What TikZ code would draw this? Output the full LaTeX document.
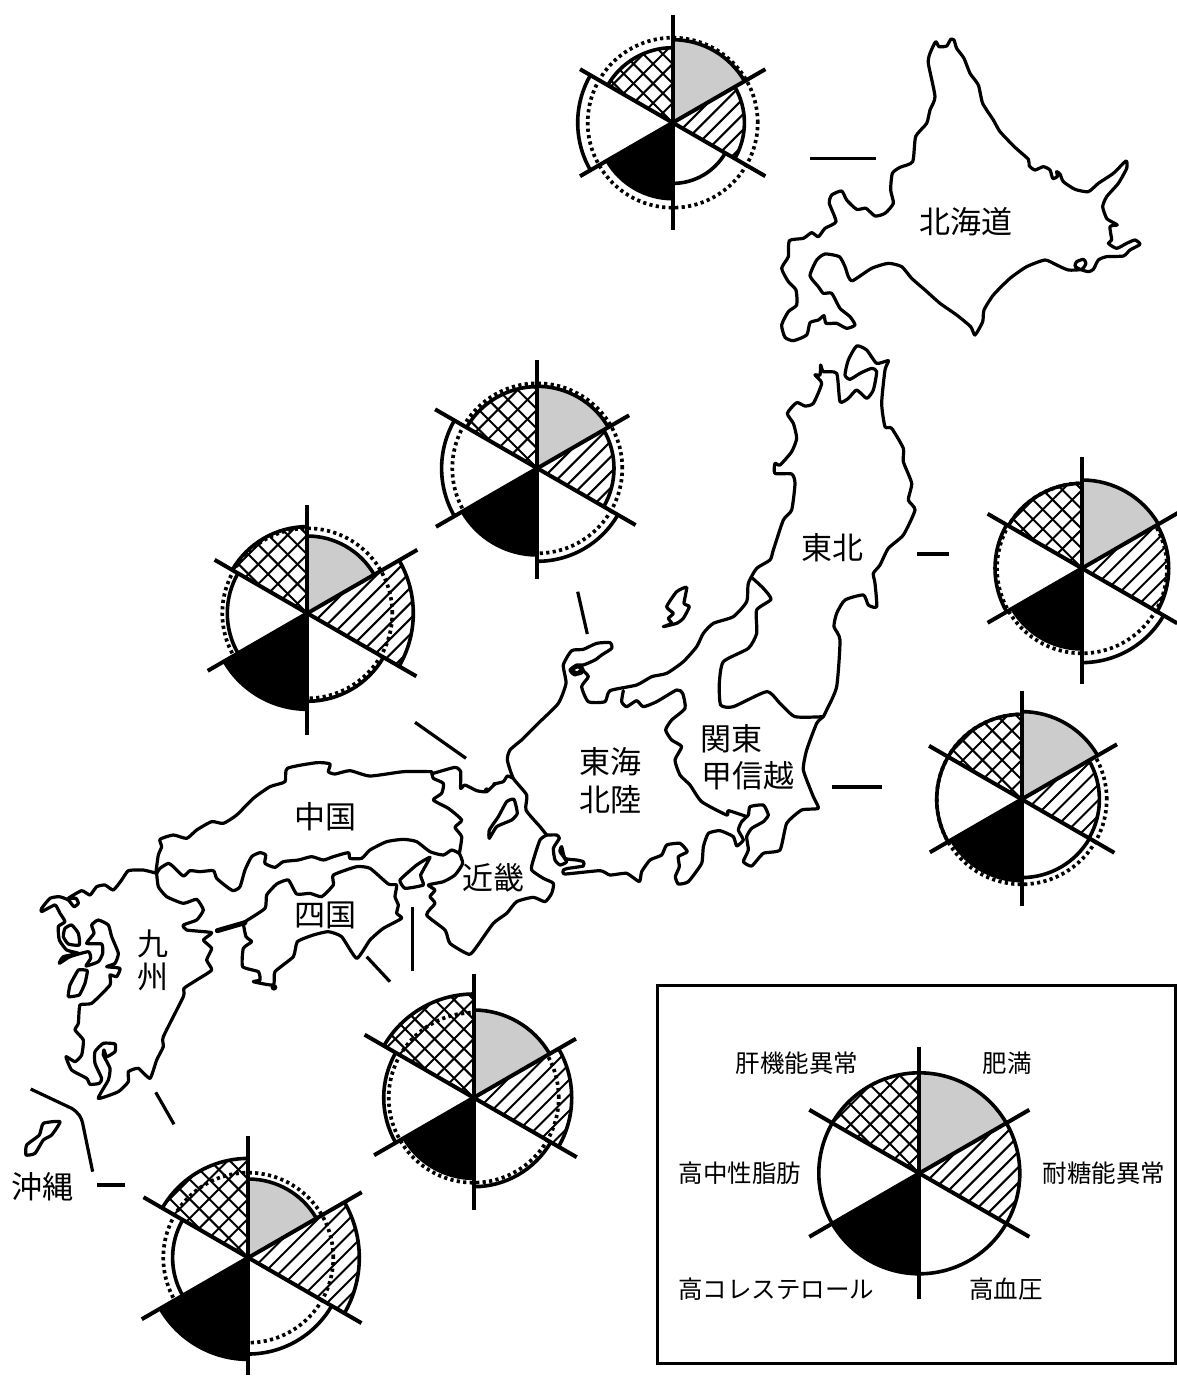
\documentclass[tikz,border=0pt]{standalone}
\usepackage{fontspec}
\newfontfamily\cjk{Noto Sans CJK JP}
\definecolor{piegray}{HTML}{CCCCCC}
\tikzset{
  coast/.style={draw=black,line width=3.2pt,line join=round,line cap=round},
  leader/.style={draw=black,line width=3.2pt},
  dotring/.style={draw=black,line width=3.7pt,dash pattern=on 3.2pt off 3.3pt},
  piearc/.style={draw=black,line width=3.6pt},
  pieaxis/.style={draw=black,line width=4pt},
  hatchline/.style={draw=black,line width=2pt},
  maplabel/.style={inner sep=0pt,font=\cjk\fontsize{31}{31}\selectfont},
  keylabel/.style={inner sep=0pt,font=\cjk\fontsize{24.5}{24.5}\selectfont},
  zA/.style={shift={(760,-30)},x=0.33333pt,y=-0.33333pt},
  zB/.style={shift={(480,-340)},x=0.33333pt,y=-0.33333pt},
  zC/.style={shift={(400,-660)},x=0.33333pt,y=-0.33333pt},
  zD/.style={shift={(0,-740)},x=0.33333pt,y=-0.33333pt},
}
\def\radar(#1,#2)#3,#4,#5,#6,#7,#8,#9;{\def\RadX{#1}\def\RadY{#2}\def\RadA{#3}\def\RadB{#4}\def\RadC{#5}\def\RadD{#6}\def\RadE{#7}\def\RadF{#8}\def\RadDot{#9}\radaraxes}
\def\radaraxes#1,#2,#3,#4,#5,#6;{%
\begin{scope}[shift={(\RadX,-\RadY)}]
  \ifdim\RadDot pt>0pt \draw[dotring] (0,0) circle[radius=\RadDot]; \fi
  \fill[piegray] (0,0)--(90:\RadA) arc[start angle=90,end angle=30,radius=\RadA]--cycle;
  \fill[black] (0,0)--(-90:\RadD) arc[start angle=-90,end angle=-150,radius=\RadD]--cycle;
  \begin{scope}
    \clip (0,0)--(30:\RadB) arc[start angle=30,end angle=-30,radius=\RadB]--cycle;
    \foreach \k in {-10,...,10} \draw[hatchline] ({\k*15.5-160},-160)--({\k*15.5+160},160);
  \end{scope}
  \begin{scope}
    \clip (0,0)--(150:\RadF) arc[start angle=150,end angle=90,radius=\RadF]--cycle;
    \foreach \k in {-8,...,8} {
      \draw[hatchline] ({\k*19.6-160},-160)--({\k*19.6+160},160);
      \draw[hatchline] ({\k*19.6-160},160)--({\k*19.6+160},-160);
    }
  \end{scope}
  \draw[piearc] (90:\RadA) arc[start angle=90,end angle=30,radius=\RadA];
  \draw[piearc] (30:\RadB) arc[start angle=30,end angle=-30,radius=\RadB];
  \draw[piearc] (-30:\RadC) arc[start angle=-30,end angle=-90,radius=\RadC];
  \draw[piearc] (-90:\RadD) arc[start angle=-90,end angle=-150,radius=\RadD];
  \draw[piearc] (-150:\RadE) arc[start angle=-150,end angle=-210,radius=\RadE];
  \draw[piearc] (150:\RadF) arc[start angle=150,end angle=90,radius=\RadF];
  \draw[pieaxis] (90:#1)--(0,0);
  \draw[pieaxis] (30:#2)--(0,0);
  \draw[pieaxis] (-30:#3)--(0,0);
  \draw[pieaxis] (-90:#4)--(0,0);
  \draw[pieaxis] (-150:#5)--(0,0);
  \draw[pieaxis] (150:#6)--(0,0);
\end{scope}}
\begin{document}
\begin{tikzpicture}[x=1pt,y=1pt]
\fill[white] (0,0) rectangle (1176,-1376);
\useasboundingbox (0,0) rectangle (1176,-1376);

% Hokkaido
\begin{scope}[zA]
\draw[coast] plot[smooth cycle,tension=0.35] coordinates {(527,35)(537,50)(560,48)(572,28)(582,30)(590,55)(612,85)(630,130)(655,165)(668,220)(700,270)(720,305)(765,352)(805,388)(808,408)(825,420)(850,410)(870,420)(878,445)(892,440)(890,425)(900,432)(910,455)(945,478)(985,485)(1015,460)(1060,430)(1098,393)(1100,415)(1075,460)(1040,500)(1028,530)(1040,565)(1060,578)(1072,585)(1050,590)(1055,630)(1045,640)(1070,655)(1100,640)(1125,630)(1140,643)(1110,660)(1090,678)(1040,680)(1015,690)(1000,718)(985,725)(960,718)(945,708)(950,695)(970,688)(978,700)(965,718)(925,720)(890,705)(855,690)(800,710)(750,745)(700,795)(672,840)(668,875)(645,915)(632,890)(590,855)(540,820)(495,780)(455,745)(425,710)(385,700)(335,715)(278,752)(265,740)(255,710)(238,680)(195,672)(170,690)(150,737)(175,770)(190,790)(215,790)(240,835)(270,860)(285,885)(260,895)(230,880)(198,880)(192,857)(175,870)(150,878)(140,915)(100,932)(75,922)(65,885)(85,845)(110,825)(108,780)(85,755)(65,715)(85,680)(88,632)(130,625)(155,608)(175,620)(195,595)(228,575)(208,520)(215,495)(245,483)(260,510)(290,538)(318,535)(345,558)(375,550)(400,520)(392,480)(397,430)(420,412)(458,395)(467,320)(500,280)(510,240)(525,200)(505,100)(510,70)};
\end{scope}

% Tohoku coast, Noto, Sado
\begin{scope}[zB]
\draw[coast] plot[smooth,tension=0.35] coordinates {(1030,1130)(1040,1110)(1070,1040)(1080,900)(1062,860)(1070,820)(1095,780)(1150,765)(1165,795)(1190,800)(1185,730)(1180,700)(1200,675)(1225,625)(1270,585)(1305,510)(1285,480)(1295,430)(1270,365)(1270,325)(1235,265)(1215,260)(1205,190)(1215,90)(1225,62)(1190,70)(1160,30)(1130,18)(1105,60)(1095,105)(1110,118)(1140,100)(1175,85)(1190,95)(1180,150)(1160,175)(1130,150)(1105,175)(1080,185)(1070,100)(1030,95)(1022,75)(1020,105)(1005,105)(1025,130)(1000,190)(975,198)(950,188)(922,220)(940,250)(950,295)(935,335)(900,375)(885,370)(885,400)(935,402)(945,430)(935,510)(910,540)(880,630)(870,660)(830,685)(805,730)(800,785)(760,830)(700,850)(670,880)(650,920)(610,965)(560,1000)(515,1010)(470,1035)(390,1052)(375,1085)(325,1085)(305,1040)(325,1010)(305,990)(285,1005)(270,990)(290,975)(310,975)(345,960)(365,945)(395,925)(390,908)(350,910)(310,928)(275,932)(250,975)(258,1030)(235,1090)(180,1145)(125,1200)};
\draw[coast] plot[smooth,tension=0.35] coordinates {(818,715)(850,745)(873,778)(830,810)(830,880)(805,925)(730,965)(718,1030)(722,1095)(760,1100)(860,1055)(900,1090)(945,1130)(1030,1130)};
\draw[coast] plot[smooth cycle,tension=0.3] coordinates {(620,742)(590,755)(560,800)(580,820)(565,835)(575,850)(550,860)(590,850)(610,835)(628,800)(612,790)};
\draw[coast,line width=4.2pt] (293,990) ellipse[x radius=15,y radius=11];
\end{scope}

% Chubu, Kinki
\begin{scope}[zC]
\draw[coast] plot[smooth,tension=0.35] coordinates {(365,240)(330,270)(322,300)(340,355)(380,405)(378,450)(420,500)(440,525)};
\draw[coast] plot[smooth,tension=0.3] coordinates {(440,525)(470,525)(478,535)(460,565)(465,600)(480,615)(500,605)(480,575)(485,560)(495,595)(530,600)(550,605)(550,618)(505,625)(490,630)(495,642)(600,632)(630,645)(680,640)(718,665)(725,635)(750,600)(785,585)(800,555)(840,550)(862,575)(835,590)(838,620)(826,650)(835,672)(865,665)(905,610)(910,560)(925,520)(960,512)(1000,530)(1010,558)(1030,540)(1015,510)(1025,485)(1045,465)(1050,440)(1090,435)(1105,465)(1090,485)(1055,505)(1040,530)(1045,570)(1030,605)(1055,618)(1090,580)(1140,570)(1160,490)(1205,450)(1255,445)(1240,410)(1210,330)(1220,270)(1250,190)(1270,170)};
\draw[coast] plot[smooth,tension=0.35] coordinates {(440,525)(420,540)(400,600)(395,630)(430,655)(460,670)(455,700)(435,725)(400,712)(350,725)(320,760)(280,790)(230,860)(207,883)(150,850)(135,810)(80,765)(105,730)(90,710)(105,690)(85,675)(130,665)(165,645)(188,610)(178,580)};
\draw[coast] plot[smooth,tension=0.35] coordinates {(670,92)(665,125)(680,140)(710,122)(730,140)(770,125)(830,90)(848,100)(855,145)(815,180)(797,210)(815,240)(845,260)(825,300)(840,345)(870,375)(905,425)(980,465)(985,452)(1035,468)};
\draw[coast] plot[smooth,tension=0.3] coordinates {(100,340)(165,322)(182,335)(182,385)(195,375)(230,392)(260,395)(285,372)(310,365)(322,348)(340,355)};
\fill (260,390) circle[radius=8];
\fill (283,372) circle[radius=6];
\draw[coast] plot[smooth cycle,tension=0.3] coordinates {(342,418)(320,425)(295,470)(268,510)(268,535)(290,500)(335,480)(352,460)};
\end{scope}

% West
\begin{scope}[zD]
\draw[coast] plot[smooth,tension=0.35] coordinates {(468,395)(475,345)(485,320)(480,298)(520,285)(560,295)(590,270)(635,245)(670,250)(710,225)(760,175)(810,140)(855,125)(862,85)(950,68)(990,72)(985,95)(1005,102)(1050,92)(1110,108)(1210,95)(1295,95)};
\draw[coast] plot[smooth,tension=0.35] coordinates {(1295,95)(1300,115)(1330,130)(1325,160)(1300,180)(1345,205)(1385,240)(1365,262)(1385,290)(1378,340)};
\draw[coast] plot[smooth,tension=0.35] coordinates {(1378,340)(1355,330)(1330,345)(1290,335)(1250,305)(1210,298)(1160,305)(1110,330)(1085,355)(1050,355)(1045,338)(1000,350)(970,360)(935,350)(895,360)(850,365)(825,382)(795,370)(797,345)(780,338)(755,350)(735,390)(720,440)(700,452)(680,440)(650,415)(640,392)(600,395)(570,392)(550,408)(520,380)(505,370)(480,385)(470,400)};
% Kyushu
\draw[coast] plot[smooth,tension=0.3] coordinates {(470,400)(430,390)(385,392)(365,420)(340,450)(315,435)(290,440)(270,465)(245,452)(205,475)(228,475)(235,490)(222,500)(205,480)(178,470)(150,475)(125,505)(125,515)(165,495)(180,520)(195,545)(175,560)(178,600)(200,630)(235,640)(190,650)(178,670)(210,650)(265,635)(272,655)(258,678)(295,665)(308,640)(305,612)(260,610)(282,580)(275,555)(295,540)(325,555)(335,590)(355,640)(345,670)(320,680)(360,685)(350,710)(330,705)(330,735)(275,790)(240,795)(235,850)(225,870)(250,900)(245,945)(225,965)(198,950)(215,990)(260,1015)(270,1033)(298,1030)(305,1015)(285,970)(285,935)(310,910)(345,912)(345,935)(320,950)(312,930)(310,945)(330,985)(325,1020)(295,1075)(355,1055)(385,1025)(385,995)(415,985)(450,1015)(470,960)(490,920)(490,890)(550,770)(552,745)(590,720)(635,690)(620,660)(635,625)(610,600)(635,578)(560,570)(550,555)(590,540)(610,510)(590,478)(550,490)(500,470)(475,440)(470,400)};
\draw[coast] plot[smooth cycle,tension=0.3] coordinates {(195,565)(215,555)(235,580)(238,615)(205,612)(190,590)};
\draw[coast] plot[smooth cycle,tension=0.2] coordinates {(235,690)(262,692)(255,730)(238,765)(205,770)(210,735)};
% Shikoku
\draw[coast] plot[smooth cycle,tension=0.3] coordinates {(1190,435)(1165,432)(1110,385)(1070,380)(1000,405)(1000,435)(965,470)(930,460)(890,462)(865,420)(830,432)(800,465)(795,505)(735,545)(730,550)(738,590)(755,605)(730,625)(728,680)(775,695)(780,720)(760,725)(820,735)(825,695)(880,650)(892,605)(940,585)(985,575)(1025,590)(1070,655)(1110,600)(1150,565)(1205,535)(1190,520)(1195,495)(1185,470)};
\fill (822,742) circle[radius=10];
\draw[line width=5pt,line cap=round] (652,572)--(735,548);
% Awaji
\draw[coast] plot[smooth cycle,tension=0.25] coordinates {(1290,352)(1250,375)(1200,420)(1215,445)(1270,435)(1262,405)};
% Okinawa
\draw[coast] plot[smooth cycle,tension=0.3] coordinates {(180,1145)(130,1150)(118,1185)(80,1215)(78,1245)(105,1240)(130,1200)(155,1185)};
% Okinawa frame line
\draw[leader] (92,1047)--(215,1105) .. controls (235,1118) and (245,1130) .. (250,1160)--(278,1295);
\end{scope}

% Leaders
\draw[leader] (810,-158.3)--(876,-158.3);
\draw[leader] (577.7,-591.7)--(587.3,-634);
\draw[leader] (415,-722.3)--(466,-758.3);
\draw[leader] (917,-554)--(949,-554);
\draw[leader] (832,-787)--(882,-787);
\draw[leader] (412.3,-906.7)--(412.3,-970.7);
\draw[leader] (366.7,-956.7)--(390,-981.7);
\draw[leader] (155.7,-1092.3)--(174,-1124.3);
\draw[leader] (97,-1185)--(125,-1185);

% Charts
\radar(672.7,122.7)83,71.7,60.7,76,95,75,85;107.7,107,107,107.3,107,107;
\radar(537.3,468.3)82,76.7,93,86.7,95.7,81.7,85;108,106,113.5,111,117,118;
\radar(307.3,613.3)77.3,106,88,96,80,86.7,85;108,127,126,122,115,107;
\radar(1082,568.3)88.3,86.7,94.3,80.7,87,85,85;111,115,110,115.7,109,109;
\radar(1021.7,799.3)87.7,77.7,78.3,81.3,85,85,85;108,110,107,107,106,107;
\radar(473.7,1097.7)87.7,98,89,80.7,90,103.7,85;124,118,119,112,115,126;
\radar(248.3,1257.7)78.7,111,96.3,101.7,75.7,99.3,85;121.7,131,130.7,117.3,123,121;

% Legend
\draw[line width=3pt] (657.5,-985.5) rectangle (1175,-1363.5);
\radar(919.3,1173.3)100.5,100.5,100.5,100.5,100.5,100.5,0;126.7,127,127,126,127,127;

% Labels
\node[maplabel] (hokkaido) at (966,-222) {北海道};
\node[maplabel] (tohoku) at (832,-548) {東北};
\node[maplabel] (kanto) at (731.5,-739) {関東};
\node[maplabel] (koshinetsu) at (747.5,-776) {甲信越};
\node[maplabel] (tokai) at (610,-761.5) {東海};
\node[maplabel] (hokuriku) at (610,-800) {北陸};
\node[maplabel] (kinki) at (493.5,-877.5) {近畿};
\node[maplabel] (chugoku) at (325,-817) {中国};
\node[maplabel] (shikoku) at (325,-915) {四国};
\node[maplabel] (kyu) at (153,-944) {九};
\node[maplabel] (shu) at (153,-977) {州};
\node[maplabel] (okinawa) at (42,-1187) {沖縄};
\node[keylabel] (liver) at (797,-1063) {肝機能異常};
\node[keylabel] (obesity) at (1007,-1063) {肥満};
\node[keylabel] (tg) at (740,-1173) {高中性脂肪};
\node[keylabel] (glucose) at (1104,-1173) {耐糖能異常};
\node[keylabel] (chol) at (776,-1289) {高コレステロール};
\node[keylabel] (bp) at (1006,-1289) {高血圧};
\end{tikzpicture}
\end{document}
